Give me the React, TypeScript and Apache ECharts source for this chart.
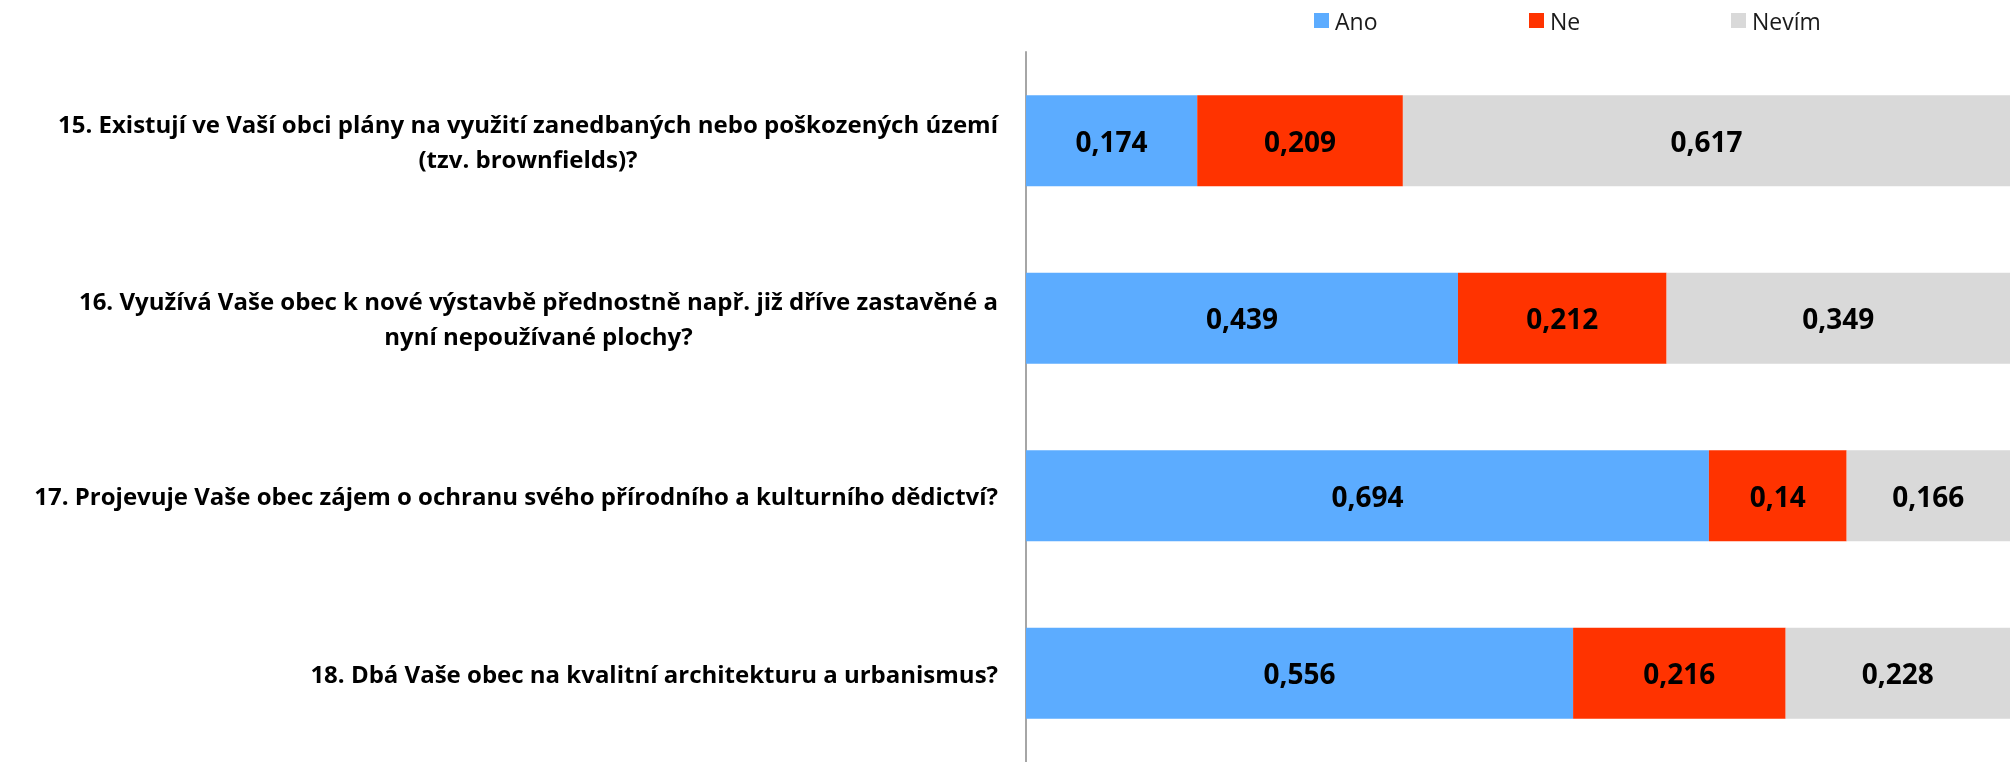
import React, { useEffect, useRef } from "react";
import * as echarts from "echarts";

const categories = [
  "15. Existují ve Vaší obci plány na využití zanedbaných nebo poškozených území\n(tzv. brownfields)?",
  "16. Využívá Vaše obec k nové výstavbě přednostně např. již dříve zastavěné a\nnyní nepoužívané plochy?",
  "17. Projevuje Vaše obec zájem o ochranu svého přírodního a kulturního dědictví?",
  "18. Dbá Vaše obec na kvalitní architekturu a urbanismus?",
];
const seriesNames = ["Ano", "Ne", "Nevím"];
const ano = [0.174, 0.439, 0.694, 0.556];
const ne = [0.209, 0.212, 0.14, 0.216];
const nevim = [0.617, 0.349, 0.166, 0.228];
const colors = ["#5CACFF", "#FF3300", "#D9D9D9"];
const legendLefts = [1314, 1529, 1731];

const FONT = "'Open Sans', Lato, sans-serif";

export default function App() {
  const ref = useRef<HTMLDivElement>(null);
  useEffect(() => {
    if (!ref.current) return;
    const chart = echarts.init(ref.current, undefined, { renderer: "svg" });
    const values = [ano, ne, nevim];
    const fmt = (p: any) => String(p.value).replace(".", ",");
    chart.setOption({
      animation: false,
      textStyle: { fontFamily: FONT },
      legend: seriesNames.map((name, i) => ({
        data: [name],
        left: legendLefts[i],
        top: 9,
        padding: 0,
        itemWidth: 15,
        itemHeight: 15,
        icon: "rect",
        textStyle: { fontSize: 23, color: "#1a1a1a", fontFamily: FONT, padding: [0, 0, 0, 1] },
      })),
      grid: { left: 1026, right: 0, top: 52, height: 717, containLabel: false },
      xAxis: {
        type: "value",
        min: 0,
        max: 1,
        show: false,
      },
      yAxis: {
        type: "category",
        data: categories,
        inverse: true,
        axisTick: { show: false },
        axisLine: { show: true, lineStyle: { color: "#A6A6A6", width: 2 } },
        axisLabel: {
          margin: 28,
          align: "right",
          formatter: (v: string) =>
            v
              .split("\n")
              .map((l) => `{c|${l}}`)
              .join("\n"),
          rich: {
            c: {
              align: "center",
              fontSize: 24,
              fontWeight: "bold",
              color: "#000",
              fontFamily: FONT,
              lineHeight: 35,
            },
          },
        },
      },
      series: seriesNames.map((name, i) => ({
        name,
        type: "bar",
        stack: "total",
        barCategoryGap: "48.7%",
        data: values[i],
        itemStyle: { color: colors[i] },
        label: {
          show: true,
          position: "inside",
          formatter: fmt,
          fontSize: 28,
          fontWeight: "bold",
          color: "#000",
          fontFamily: FONT,
        },
      })),
    });
    return () => chart.dispose();
  }, []);
  return (
    <div
      ref={ref}
      style={{ position: "fixed", left: 0, top: 0, width: 2010, height: 762 }}
    />
  );
}
